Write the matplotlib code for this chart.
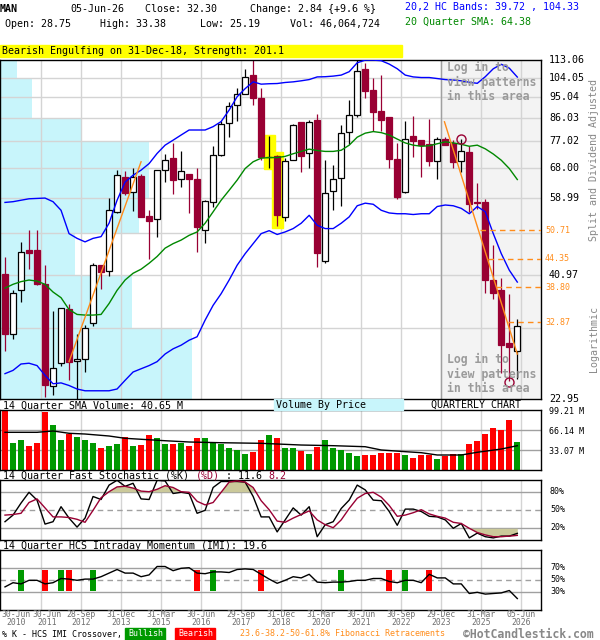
import matplotlib
matplotlib.use('Agg')
import matplotlib.pyplot as plt
from matplotlib.patches import Rectangle
from matplotlib.transforms import blended_transform_factory
import numpy as np

plt.rcParams['font.family'] = ['DejaVu Sans Mono', 'DejaVu Sans']

W, H = 600, 640

# quarterly candles, 30-Jun-2010 .. 05-Jun-2026
opens = [41.2, 31.1, 38.2, 46.1, 46.3, 39.4, 24.3, 27.1, 35.0, 27.4, 27.6, 32.8, 43.0, 41.8, 55.2, 65.1,
         60.6, 65.4, 54.2, 53.4, 67.3, 71.2, 64.5, 66.0, 64.5, 50.7, 57.8, 72.2, 84.2, 91.5, 96.2, 105.3,
         94.5, 71.5, 71.8, 53.9, 70.5, 84.6, 72.9, 85.2, 43.8, 60.9, 64.7, 80.5, 87.3, 108.4, 98.1, 89.0,
         86.5, 70.8, 60.6, 79.0, 77.5, 76.0, 70.1, 77.9, 76.4, 70.1, 73.2, 57.8, 57.8, 40.1, 38.2, 29.8, 28.75]
highs = [44.8, 38.2, 47.9, 50.7, 50.7, 43.0, 34.6, 35.1, 35.9, 31.1, 32.5, 43.4, 43.0, 59.0, 67.3, 67.0,
         68.0, 66.1, 55.7, 67.3, 72.7, 76.4, 73.5, 66.0, 68.0, 58.4, 75.3, 84.9, 92.6, 98.9, 108.4, 114.0,
         98.9, 79.0, 72.2, 71.2, 83.8, 84.6, 85.4, 87.7, 70.5, 69.0, 83.4, 93.6, 114.0, 111.4, 103.7, 105.3,
         86.5, 76.4, 84.9, 87.0, 77.5, 85.6, 78.6, 78.6, 77.5, 77.9, 75.3, 63.4, 58.7, 47.3, 40.4, 37.5, 33.38]
lows = [28.7, 30.4, 36.1, 42.2, 39.2, 23.1, 23.3, 26.8, 25.0, 22.8, 26.0, 32.3, 38.5, 40.9, 55.0, 59.8,
        55.4, 54.0, 44.2, 49.1, 63.5, 60.0, 62.1, 55.0, 45.7, 47.7, 56.5, 71.8, 78.6, 84.8, 96.2, 91.5,
        70.5, 67.9, 51.7, 53.0, 70.5, 66.7, 67.9, 42.6, 43.4, 55.9, 56.9, 76.0, 86.5, 94.5, 81.0, 81.0,
        67.9, 58.7, 60.3, 71.5, 65.1, 68.7, 64.5, 75.7, 67.9, 66.7, 55.2, 56.1, 37.7, 36.6, 25.9, 24.9, 25.19]
closes = [31.1, 37.7, 45.8, 45.5, 39.4, 24.5, 26.5, 35.1, 27.2, 27.6, 32.0, 43.0, 41.6, 55.7, 65.8, 60.3,
          65.1, 54.0, 53.0, 67.3, 70.5, 64.2, 67.0, 64.5, 51.5, 58.1, 72.2, 83.8, 91.2, 96.2, 104.3, 94.5,
          71.5, 71.7, 54.6, 70.1, 83.4, 71.8, 84.6, 45.5, 60.3, 64.5, 80.1, 87.3, 107.4, 97.6, 88.5, 85.2,
          70.8, 59.3, 78.1, 77.2, 75.7, 70.1, 77.9, 75.7, 69.8, 73.5, 57.3, 57.6, 40.1, 37.7, 29.5, 29.2, 32.30]

upper_band = [57.8, 58.0, 58.4, 58.8, 58.9, 59.0, 58.0, 55.7, 49.9, 48.8, 48.0, 48.8, 49.2, 52.4, 58.4, 63.6,
              65.7, 67.3, 69.4, 72.8, 75.7, 77.5, 79.4, 81.3, 81.3, 81.3, 82.6, 84.6, 89.3, 95.1, 98.8, 102.0,
              100.9, 101.1, 101.2, 101.7, 102.0, 102.5, 103.1, 104.4, 104.5, 104.8, 105.3, 107.0, 111.6, 113.0,
              113.0, 112.7, 110.9, 108.5, 105.3, 104.4, 104.1, 104.1, 103.6, 103.1, 102.9, 102.5, 101.8, 101.3,
              104.5, 108.5, 110.8, 108.8, 104.33]
lower_band = [25.8, 26.2, 27.0, 27.1, 26.8, 25.6, 24.6, 24.7, 24.4, 24.0, 23.8, 23.8, 23.8, 23.8, 24.0, 25.0,
              26.0, 26.4, 26.8, 27.3, 28.3, 29.0, 29.5, 30.2, 30.7, 33.2, 35.6, 37.6, 40.1, 43.0, 45.4, 47.6,
              49.9, 50.6, 49.7, 50.3, 51.1, 52.4, 54.4, 51.9, 51.1, 51.1, 52.4, 54.0, 56.9, 57.6, 57.3, 55.7,
              55.0, 54.8, 54.8, 54.6, 54.8, 54.8, 56.7, 57.1, 56.9, 56.2, 54.8, 56.7, 55.3, 49.9, 45.4, 42.0, 39.72]
sma20 = [38.6, 39.3, 39.8, 40.1, 39.9, 39.3, 37.9, 36.9, 34.9, 34.1, 34.0, 34.0, 34.1, 35.9, 38.2, 40.1,
         41.4, 42.2, 43.4, 44.8, 46.6, 47.6, 48.4, 49.5, 50.3, 52.4, 55.3, 58.4, 61.2, 64.2, 67.8, 70.0,
         71.2, 71.4, 71.4, 71.8, 72.7, 73.5, 74.3, 73.8, 73.5, 73.5, 73.9, 75.7, 78.6, 80.1, 80.7, 80.3,
         79.4, 77.9, 76.5, 75.7, 75.3, 75.5, 76.2, 76.9, 76.5, 76.0, 75.3, 75.7, 74.4, 72.6, 70.5, 67.8, 64.38]

# volume (millions)
volume = [98.5, 45.6, 50.1, 40.2, 45.1, 96.4, 75.0, 50.1, 60.5, 55.1, 50.1, 45.1, 36.9, 40.2, 43.5, 55.1,
          40.2, 41.8, 58.4, 53.4, 44.0, 44.0, 45.6, 40.2, 53.0, 53.2, 45.0, 43.5, 37.4, 33.6, 27.0, 29.8,
          50.1, 58.4, 52.9, 37.4, 37.4, 31.9, 27.0, 39.0, 50.1, 37.4, 33.6, 28.1, 23.6, 25.3, 25.3, 29.1,
          29.1, 29.1, 25.3, 20.5, 25.3, 25.3, 19.0, 24.2, 27.0, 27.0, 44.0, 48.4, 60.0, 69.9, 66.6, 83.2, 46.06]
vol_sma_idx = [0, 4, 6, 8, 10, 13, 15, 17, 20, 23, 27, 32, 37, 41, 45, 47, 50, 52, 54, 57, 59, 62, 64]
vol_sma = [62.8, 62.8, 65.0, 61.2, 60.0, 56.7, 52.9, 51.3, 48.9, 46.8, 45.6, 44.6, 41.8, 40.7, 39.0, 33.6,
           30.8, 29.1, 25.3, 25.3, 29.8, 35.2, 40.65]

stoch_k = [31, 42, 62, 80, 67, 27, 31, 56, 37, 22, 37, 73, 68, 92, 100, 90, 95, 69, 68, 100, 99, 78, 80, 78,
           45, 50, 88, 98, 98, 98, 97, 73, 39, 39, 14, 34, 54, 42, 56, 6, 26, 31, 53, 67, 92, 84, 67, 66,
           48, 25, 52, 52, 48, 40, 39, 34, 20, 28, 4, 12, 6, 4, 7, 7, 11.6]
stoch_d = [42, 43, 45, 63, 69, 54, 39, 39, 38, 35, 30, 50, 71, 81, 89, 90, 87, 82, 81, 85, 91, 88, 81, 80,
           65, 59, 63, 80, 97, 99, 97, 88, 66, 51, 32, 30, 37, 43, 49, 34, 26, 21, 34, 53, 70, 78, 80, 72,
           58, 40, 42, 46, 51, 44, 40, 37, 30, 28, 20, 13, 9, 6, 6, 7, 8.2]
imi = [39, 46, 44, 50, 50, 44, 46, 53, 52, 50, 52, 52, 56, 62, 68, 62, 62, 56, 59, 73, 73, 66, 70, 71,
       62, 61, 64, 64, 63, 68, 69, 68, 60, 52, 45, 50, 56, 54, 60, 47, 46, 47, 47, 48, 50, 50, 53, 53,
       48, 46, 50, 50, 46, 60, 54, 54, 44, 44, 28, 30, 27, 28, 29, 33, 19.6]
cross_bull = [2, 7, 11, 26, 42, 50]
cross_bear = [5, 8, 24, 32, 48, 53]

# volume by price bins
vbp_edges = [22.95, 31.96, 40.97, 49.98, 58.99, 68.00, 77.02, 86.03, 95.04, 104.05, 113.06]
vbp_len = [192, 132, 75, 139, 149, 149, 82, 32, 32, 17]

price_grid = [31.96, 40.97, 49.98, 58.99, 68.00, 77.02, 86.03, 95.04, 104.05]
price_labels = ['113.06', '104.05', '95.04', '86.03', '77.02', '68.00', '58.99', '40.97', '22.95']
fib_levels = [50.71, 44.35, 38.80, 32.87]
fib_start = [59.4, 60.3, 61.4, 62.8]
trend1_x, trend1_y = [8, 17], [27.3, 70.0]
trend2_x, trend2_y = [54.9, 64.0], [84.5, 28.3]
hl_idx, hl_lo, hl_hi = [33, 34], [67.6, 51.2], [79.4, 73.2]
circ_idx, circ_val = [57, 63], [78.1, 24.8]

date_labels = ['30-Jun\n2010', '30-Jun\n2011', '28-Sep\n2012', '31-Dec\n2013', '31-Mar\n2015', '30-Jun\n2016',
               '29-Sep\n2017', '31-Dec\n2018', '31-Mar\n2020', '30-Jun\n2021', '30-Sep\n2022', '29-Dec\n2023',
               '31-Mar\n2025', '05-Jun\n2026']

RED = '#990033'
ORANGE = '#ff8c1a'
idx = np.arange(len(closes))
grid_x = [4.46 + 5 * k for k in range(13)]
XMIN, XMAX = -0.625, 66.96


def fx(x):
    return x / W


def fy(y):
    return 1 - y / H


def ftxt(x, y, s, **kw):
    kw.setdefault('fontsize', 7.2)
    kw.setdefault('va', 'center')
    fig.text(fx(x), fy(y), s, **kw)


fig = plt.figure(figsize=(6, 6.4), dpi=100)
fig.patch.set_facecolor('white')

axw = 541 / W
ax = fig.add_axes([0, fy(398.5), axw, 338.5 / H])
ax_v = fig.add_axes([0, fy(470.3), axw, 60 / H])
ax_s = fig.add_axes([0, fy(540.3), axw, 60 / H])
ax_i = fig.add_axes([0, fy(610.3), axw, 60 / H])

for a in (ax, ax_v, ax_s, ax_i):
    a.set_xlim(XMIN, XMAX)
    a.set_xticks(grid_x)
    a.tick_params(length=0, labelbottom=False, labelleft=False)
    a.set_axisbelow(True)
    a.grid(axis='x', color='#d4d4d4', lw=1)
    for sp in a.spines.values():
        sp.set_color('black')
        sp.set_linewidth(1)

# ---- price panel
ax.set_yscale('log')
ax.set_ylim(22.95, 113.06)
ax.set_yticks(price_grid)
ax.yaxis.set_minor_locator(plt.NullLocator())
ax.grid(axis='y', color='#d4d4d4', lw=1)

ax.axvspan(54.46, XMAX, color='#f3f3f3', zorder=0.2)
ax.axvline(54.46, color='#a0a0a0', lw=1, zorder=0.6)
for k in range(len(vbp_len)):
    ax.barh(vbp_edges[k], vbp_len[k] / 8, height=vbp_edges[k + 1] - vbp_edges[k], left=XMIN,
            align='edge', color='#c8f5fb', zorder=0.3)

for t, yy in zip(['Log in to', 'view patterns', 'in this area'], [67, 82, 97]):
    ftxt(447, yy, t, color='#9a9a9a', fontsize=8.3, fontweight='bold', zorder=0.7)
for t, yy in zip(['Log in to', 'view patterns', 'in this area'], [359, 374, 389]):
    ftxt(447, yy, t, color='#9a9a9a', fontsize=8.3, fontweight='bold', zorder=0.7)

for i, lo, hi in zip(hl_idx, hl_lo, hl_hi):
    ax.add_patch(Rectangle((i - 0.68, lo), 1.36, hi - lo, color='#ffff00', zorder=1.5))

for i in idx:
    o, h, l, c = opens[i], highs[i], lows[i], closes[i]
    up = c >= o
    col = 'black' if up else RED
    ax.vlines(i, l, h, color=col, lw=0.9, zorder=2)
    ax.add_patch(Rectangle((i - 0.36, min(o, c)), 0.72, abs(c - o),
                           facecolor='white' if up else RED, edgecolor=col, lw=0.9, zorder=2.2))

ax.plot(idx, upper_band, color='#0000ff', lw=1, zorder=3)
ax.plot(idx, lower_band, color='#0000ff', lw=1, zorder=3)
ax.plot(idx, sma20, color='#008800', lw=1, zorder=3)
ax.plot(trend1_x, trend1_y, color=ORANGE, lw=1, zorder=3.2)
ax.plot(trend2_x, trend2_y, color=ORANGE, lw=1, zorder=3.2)
ax.plot(circ_idx, circ_val, 'o', ms=6.5, mfc='none', mec=RED, mew=1, zorder=3.3)

for lv, st in zip(fib_levels, fib_start):
    ax.hlines(lv, st, XMAX, colors=ORANGE, linestyles=(0, (4, 3)), lw=1, zorder=3.1)

tr = blended_transform_factory(ax.transAxes, ax.transData)
for lab in price_labels:
    ax.text(549 / 541, float(lab), lab, transform=tr, fontsize=7.2, va='center', clip_on=False)
for lv in fib_levels:
    ax.text(545 / 541, lv, f'{lv:.2f}', transform=tr, fontsize=6, color=ORANGE, va='center', clip_on=False)

ftxt(594, 160, 'Split and Dividend Adjusted', rotation=90, ha='center', color='#888888')
ftxt(594, 339, 'Logarithmic', rotation=90, ha='center', color='#888888')

# ---- header
ftxt(0, 9, 'MAN', fontweight='bold')
ftxt(70, 9, '05-Jun-26')
ftxt(145, 9, 'Close: 32.30')
ftxt(250, 9, 'Change: 2.84 {+9.6 %}')
ftxt(405, 7, '20,2 HC Bands: 39.72 , 104.33', color='#0000ff')
ftxt(5, 24, 'Open: 28.75')
ftxt(100, 24, 'High: 33.38')
ftxt(200, 24, 'Low: 25.19')
ftxt(290, 24, 'Vol: 46,064,724')
ftxt(405, 22, '20 Quarter SMA: 64.38', color='#008800')
fig.add_artist(Rectangle((0, fy(57)), fx(402), 12 / H, transform=fig.transFigure, color='#ffff00'))
ftxt(2, 51.5, 'Bearish Engulfing on 31-Dec-18, Strength: 201.1')

# ---- volume panel
vcols = ['#009900' if c >= o else '#ff0000' for o, c in zip(opens, closes)]
ax_v.set_ylim(0, 99.21)
ax_v.set_yticks([33.07, 66.14])
ax_v.grid(axis='y', color='#a0a0a0', lw=1)
ax_v.bar(idx, volume, width=0.75, color=vcols, zorder=2)
ax_v.plot(vol_sma_idx, vol_sma, color='black', lw=1, zorder=3)
for yy, lab in zip([412, 432, 452], ['99.21 M', '66.14 M', '33.07 M']):
    ftxt(549, yy, lab, fontsize=6)
ftxt(3, 405.5, '14 Quarter SMA Volume: 40.65 M')
fig.add_artist(Rectangle((fx(274), fy(410)), 129 / W, 11 / H, transform=fig.transFigure, color='#c8f5fb'))
ftxt(276, 405, 'Volume By Price')
ftxt(431, 405, 'QUARTERLY CHART')

# ---- stochastic panel
sk = np.array(stoch_k, dtype=float)
sd = np.array(stoch_d, dtype=float)
ax_s.set_ylim(0, 100)
ax_s.set_yticks([20, 80])
ax_s.grid(axis='y', color='#a0a0a0', lw=1)
ax_s.axhline(50, color='#a0a0a0', lw=1, ls=(0, (4, 3)), zorder=0.8)
ax_s.fill_between(idx, sd, 80, where=sd >= 80, interpolate=True, color='#cbc99a', lw=0, zorder=1.5)
ax_s.fill_between(idx, sd, 20, where=sd <= 20, interpolate=True, color='#cbc99a', lw=0, zorder=1.5)
ax_s.plot(idx, sk, color='black', lw=1, zorder=3)
ax_s.plot(idx, sd, color=RED, lw=1, zorder=3)
for yy, lab in zip([492, 510, 528], ['80%', '50%', '20%']):
    ftxt(550, yy, lab, fontsize=6)
ftxt(3, 476, '14 Quarter Fast Stochastic (%K) ')
ftxt(3 + 32 * 6.03, 476, '(%D)', color=RED)
ftxt(3 + 36 * 6.03, 476, ' : 11.6')
ftxt(3 + 44 * 6.03, 476, '8.2', color=RED)

# ---- IMI panel
ax_i.set_ylim(0, 100)
ax_i.set_yticks([30, 70])
ax_i.grid(axis='y', color='#a0a0a0', lw=1)
ax_i.axhline(50, color='#a0a0a0', lw=1, ls=(0, (4, 3)), zorder=0.8)
ax_i.bar(cross_bull, 35, bottom=32, width=0.75, color='#009900', zorder=2)
ax_i.bar(cross_bear, 35, bottom=32, width=0.75, color='#ff0000', zorder=2)
ax_i.plot(idx, imi, color='black', lw=1, zorder=3)
for yy, lab in zip([568, 580, 592], ['70%', '50%', '30%']):
    ftxt(550, yy, lab, fontsize=6)
ftxt(3, 546, '14 Quarter HCS Intraday Momentum (IMI): 19.6')

label_pos = [1.35, 5.3] + grid_x[1:]
for pos, lab in zip(label_pos, date_labels):
    xp = 5 + 8 * pos
    ftxt(xp, 618.5, lab, fontsize=5.9, ha='center', color='#707070', linespacing=0.95)

# ---- bottom legend
ftxt(2, 634, '% K - HCS IMI Crossover,', fontsize=6)
fig.add_artist(Rectangle((fx(125), fy(640)), 40 / W, 12 / H, transform=fig.transFigure, color='#009900'))
ftxt(128, 634, 'Bullish', fontsize=6, color='white')
fig.add_artist(Rectangle((fx(175), fy(640)), 40 / W, 12 / H, transform=fig.transFigure, color='#ff0000'))
ftxt(178, 634, 'Bearish', fontsize=6, color='white')
ftxt(240, 634, '23.6-38.2-50-61.8% Fibonacci Retracements', fontsize=6, color=ORANGE)
ftxt(463, 634.5, '\u00a9HotCandlestick.com', fontsize=8.3, fontweight='bold', color='#888888')

fig.savefig('out.png', dpi=100)
